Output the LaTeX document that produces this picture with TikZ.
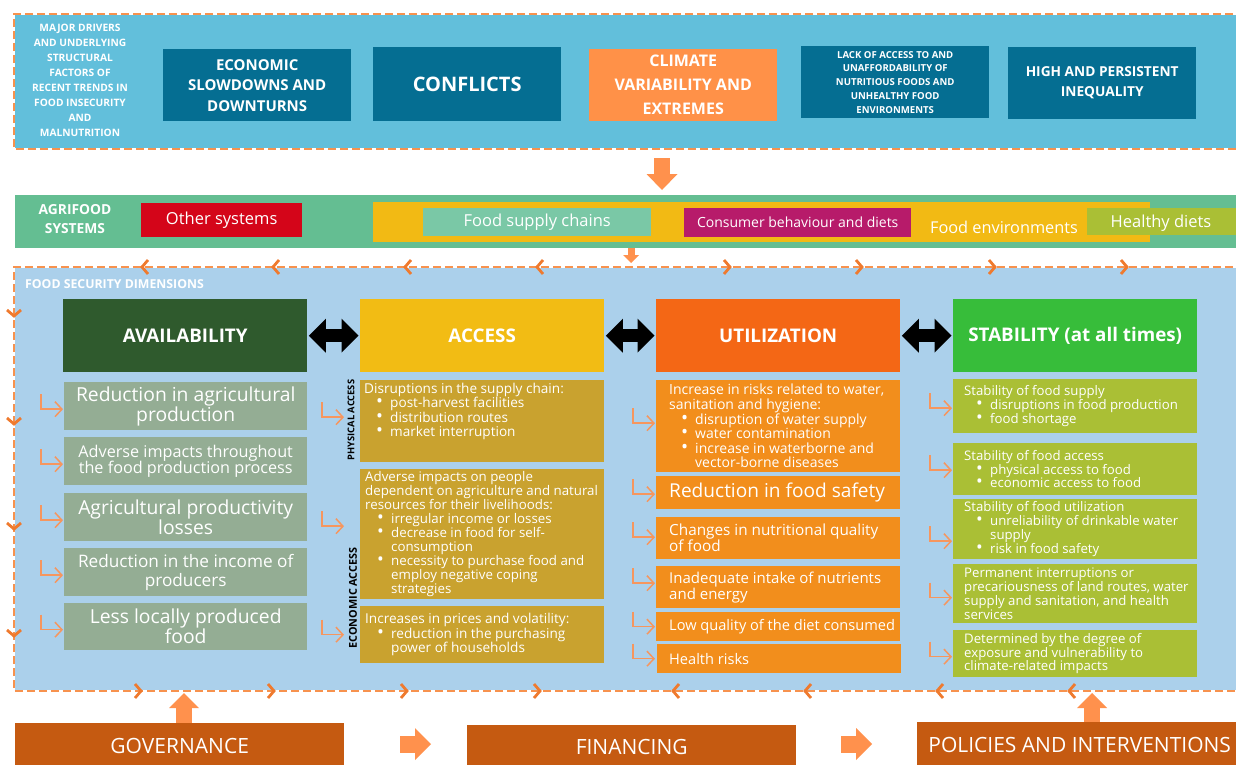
\documentclass[tikz,border=0pt]{standalone}
\usepackage{fontspec}
\usepackage{graphicx}
\setmainfont{Open Sans}
\usetikzlibrary{arrows.meta}
\definecolor{bandblue}{HTML}{62BFDB}
\definecolor{drvteal}{HTML}{056E92}
\definecolor{climc}{HTML}{FF9148}
\definecolor{agrig}{HTML}{64BE92}
\definecolor{othred}{HTML}{D40519}
\definecolor{envyel}{HTML}{F2BA14}
\definecolor{supg}{HTML}{7AC8A6}
\definecolor{consm}{HTML}{B71B6A}
\definecolor{healthg}{HTML}{AABF35}
\definecolor{fsblue}{HTML}{ABD0EB}
\definecolor{avdark}{HTML}{2F5A2D}
\definecolor{avboxc}{HTML}{94AD94}
\definecolor{accy}{HTML}{F2BC14}
\definecolor{acboxc}{HTML}{C9A22F}
\definecolor{utor}{HTML}{F46715}
\definecolor{utboxc}{HTML}{F28E1C}
\definecolor{stg}{HTML}{37BD3A}
\definecolor{stboxc}{HTML}{AABF35}
\definecolor{btmc}{HTML}{C55A11}
\definecolor{dashc}{HTML}{F7924E}
\definecolor{chevc}{HTML}{EF7A2E}
\definecolor{arrc}{HTML}{FF914D}
\definecolor{hookc}{HTML}{F6965E}
\newcommand\fsz[2]{\fontsize{#1}{#2}\selectfont}
\newcommand\bulA[1]{\hspace*{12pt}\makebox[14pt][l]{\smash{\scalebox{1.35}{•}}}#1}
\newcommand\bulB[1]{\hspace*{26pt}#1}
\newcommand\hka[3]{\draw[hookarr] ([shift={(#2-22pt,#3+15pt)}]#1.west) |- ([shift={(#2,#3)}]#1.west);}
\begin{document}
\begin{tikzpicture}[x=1pt,y=-1pt,
  every node/.style={inner sep=0pt,text=white},
  rbox/.style={anchor=north west, inner sep=0pt, align=center},
  txt/.style={anchor=west, align=left, inner sep=0pt, text=white},
  dashb/.style={draw=dashc, line width=2.6pt, dash pattern=on 8pt off 4pt},
  whiteb/.style={draw=white, line width=2.6pt},
  chev/.style={draw=chevc, line width=2.8pt},
  hookarr/.style={draw=hookc, line width=1.5pt, -{Straight Barb[length=7pt,width=15pt]}},
  blockarr/.style n args={3}{draw=arrc, line width=#1, -{Triangle[length=#2,width=#3,line width=0pt]}},
  dblarr/.style={draw=black, line width=13pt, {Triangle[length=17pt,width=34pt,line width=0pt]}-{Triangle[length=17pt,width=34pt,line width=0pt]}, shorten <=1.5pt, shorten >=1.5pt},
  abox/.style={rbox, fill=avboxc, minimum width=243pt, minimum height=48pt},
  acbox/.style={rbox, fill=acboxc, minimum width=244pt},
  utbox/.style={rbox, fill=utboxc, minimum width=244pt},
  stbox/.style={rbox, fill=stboxc, minimum width=244pt},
  hdr/.style={rbox, minimum width=244pt, minimum height=73pt, font=\bfseries\fsz{18.8}{22}},
  tbox/.style={rbox, fill=drvteal, minimum width=188pt, minimum height=72pt},
  btmbox/.style={rbox, fill=btmc, font=\fsz{21}{24}}
]
\useasboundingbox (0,0) rectangle (1236,765);
\clip (0,0) rectangle (1236,765);

% ---------- drivers band ----------
\fill[bandblue] (14,14) rectangle (1245,149);
\draw[whiteb] (1245,14) -- (14,14) -- (14,149) -- (1245,149);
\draw[dashb] (1245,14) -- (14,14) -- (14,149) -- (1245,149);
\node[font=\bfseries\fsz{10.2}{15}, align=center] (drivers) at (80,80) {MAJOR DRIVERS\\AND UNDERLYING\\STRUCTURAL\\FACTORS OF\\RECENT TRENDS IN\\FOOD INSECURITY\\AND\\MALNUTRITION};
\node[tbox, font=\bfseries\fsz{15}{20.5}] (econ) at (163,49) {ECONOMIC\\SLOWDOWNS AND\\DOWNTURNS};
\node[tbox, minimum height=74pt, font=\bfseries\fsz{20}{24}] (confl) at (373,47) {CONFLICTS};
\node[tbox, fill=climc, font=\bfseries\fsz{16}{24}] (clim) at (589,49) {CLIMATE\\VARIABILITY AND\\EXTREMES};
\node[tbox, font=\bfseries\fsz{9.6}{13.7}] (lack) at (801,46) {LACK OF ACCESS TO AND\\UNAFFORDABILITY OF\\NUTRITIOUS FOODS AND\\UNHEALTHY FOOD\\ENVIRONMENTS};
\node[tbox, font=\bfseries\fsz{13.7}{20}] (ineq) at (1008,47) {HIGH AND PERSISTENT\\INEQUALITY};

\coordinate (d1a) at (662,158);
\coordinate (d1b) at (662,190);
\draw[blockarr={16pt}{16pt}{31pt}] (d1a) -- (d1b);

% ---------- agrifood systems ----------
\node[rbox, fill=agrig, minimum width=1230pt, minimum height=53pt] (agriband) at (15,195) {};
\node[font=\bfseries\fsz{13.8}{19}, align=center] (agrit) at (75,219) {AGRIFOOD\\SYSTEMS};
\node[rbox, fill=othred, minimum width=161pt, minimum height=34pt, font=\fsz{16.5}{18}] (other) at (141,203) {Other systems};
\node[rbox, fill=envyel, minimum width=777pt, minimum height=40pt] (fenv) at (373,202) {};
\node[font=\fsz{16.3}{18}] (fenvt) at (1004,227) {Food environments};
\node[rbox, fill=supg, minimum width=228pt, minimum height=28pt, font=\fsz{16.5}{18}] (supply) at (423,208) {Food supply chains};
\node[rbox, fill=consm, minimum width=227pt, minimum height=29pt, font=\fsz{14}{16}] (cons) at (684,208) {Consumer behaviour and diets};
\node[rbox, fill=healthg, minimum width=149pt, minimum height=27pt] (healthy) at (1087,208) {};
\node[font=\fsz{16.5}{18}] (healthyt) at (1161,223) {Healthy diets};

\coordinate (d2a) at (631,248);
\coordinate (d2b) at (631,263);
\draw[blockarr={7pt}{8pt}{16pt}] (d2a) -- (d2b);

% ---------- food security dimensions ----------
\fill[fsblue] (14,267) rectangle (1245,691);
\draw[whiteb] (1245,267) -- (14,267) -- (14,691) -- (1245,691);
\draw[dashb] (1245,267) -- (14,267) -- (14,691) -- (1245,691);
\foreach \x in {142,273,405,537} \draw[chev] (\x+6,260) -- (\x,267) -- (\x+6,274);
\foreach \x in {730,862,995,1127} \draw[chev] (\x-6,260) -- (\x,267) -- (\x-6,274);
\foreach \x in {141,274,407,540} \draw[chev] (\x-6,684) -- (\x,691) -- (\x-6,698);
\foreach \x in {673,805,937,1069} \draw[chev] (\x+6,684) -- (\x,691) -- (\x+6,698);
\foreach \y in {316,424,529,636} \draw[chev] (7,\y-6) -- (14,\y) -- (21,\y-6);
\node[anchor=west, font=\bfseries\fsz{12.3}{14}] (fstitle) at (25,284) {FOOD SECURITY DIMENSIONS};

\node[hdr, fill=avdark] (hav) at (63,299) {AVAILABILITY};
\node[hdr, fill=accy] (hac) at (360,299) {ACCESS};
\node[hdr, fill=utor] (hut) at (656,299) {UTILIZATION};
\node[hdr, fill=stg] (hst) at (953,299) {STABILITY (at all times)};
\draw[dblarr] (hav.east) -- (hac.west);
\draw[dblarr] (hac.east) -- (hut.west);
\draw[dblarr] (hut.east) -- (hst.west);

% availability
\node[abox, font=\fsz{19.3}{20}] (ab1) at (64,382) {Reduction in agricultural\\production};
\node[abox, font=\fsz{16.2}{16.6}] (ab2) at (64,437) {Adverse impacts throughout\\the food production process};
\node[abox, font=\fsz{19.3}{20}] (ab3) at (64,493) {Agricultural productivity\\losses};
\node[abox, font=\fsz{17.2}{19}] (ab4) at (64,548) {Reduction in the income of\\producers};
\node[abox, minimum height=47pt, font=\fsz{19.3}{20}] (ab5) at (64,603) {Less locally produced\\food};
\foreach \n in {ab1,ab2,ab3,ab4,ab5} {\hka{\n}{-1pt}{-3pt}}

% access
\node[acbox, minimum height=82pt] (ac1) at (360,380) {};
\node[acbox, minimum height=130pt] (ac2) at (360,469) {};
\node[acbox, minimum height=57pt] (ac3) at (360,606) {};
\node[txt, anchor=north west, font=\fsz{13.6}{14.3}] (ac1t) at (364,383) {Disruptions in the supply chain:\\\bulA{post-harvest facilities}\\\bulA{distribution routes}\\\bulA{market interruption}};
\node[txt, font=\fsz{13.3}{14}] (ac2t) at ([xshift=5pt]ac2.west) {Adverse impacts on people\\dependent on agriculture and natural\\resources for their livelihoods:\\\bulA{irregular income or losses}\\\bulA{decrease in food for self-}\\\bulB{consumption}\\\bulA{necessity to purchase food and}\\\bulB{employ negative coping}\\\bulB{strategies}};
\node[txt, font=\fsz{13.6}{14.3}] (ac3t) at ([xshift=5pt]ac3.west) {Increases in prices and volatility:\\\bulA{reduction in the purchasing}\\\bulB{power of households}};
\node[rotate=90, text=black, font=\bfseries\fsz{9.3}{10}] (phys) at (351,420) {PHYSICAL ACCESS};
\node[rotate=90, text=black, font=\bfseries\fsz{10.8}{12}] (econa) at (353,598) {ECONOMIC ACCESS};
\hka{ac1}{-16pt}{4pt}
\hka{ac2}{-16pt}{8pt}
\hka{ac3}{-16pt}{0pt}

% utilization
\node[utbox, minimum height=92pt] (ut1) at (656,380) {};
\node[utbox, minimum height=33pt] (ut2) at (656,476) {};
\node[utbox, minimum height=42pt] (ut3) at (656,517) {};
\node[utbox, minimum height=42pt] (ut4) at (656,566) {};
\node[utbox, minimum height=29pt] (ut5) at (656,612) {};
\node[utbox, minimum height=29pt] (ut6) at (657,644) {};
\node[txt, font=\fsz{14}{14.6}] (ut1t) at ([xshift=13pt]ut1.west) {Increase in risks related to water,\\sanitation and hygiene:\\\bulA{disruption of water supply}\\\bulA{water contamination}\\\bulA{increase in waterborne and}\\\bulB{vector-borne diseases}};
\node[txt, font=\fsz{19.1}{20}] (ut2t) at ([xshift=13pt]ut2.west) {Reduction in food safety};
\node[txt, font=\fsz{15.3}{16}] (ut3t) at ([xshift=13pt]ut3.west) {Changes in nutritional quality\\of food};
\node[txt, font=\fsz{15}{16}] (ut4t) at ([xshift=13pt]ut4.west) {Inadequate intake of nutrients\\and energy};
\node[txt, font=\fsz{14.6}{16}] (ut5t) at ([xshift=13pt]ut5.west) {Low quality of the diet consumed};
\node[txt, font=\fsz{14.6}{16}] (ut6t) at ([xshift=12pt]ut6.west) {Health risks};
\hka{ut1}{-1pt}{3pt}
\hka{ut2}{-1pt}{-1.5pt}
\hka{ut3}{-1pt}{1pt}
\hka{ut4}{-1pt}{4pt}
\hka{ut5}{-1pt}{0pt}
\hka{ut6}{-2pt}{0pt}

% stability
\node[stbox, minimum height=54pt] (st1) at (953,379) {};
\node[stbox, minimum height=52pt] (st2) at (953,443) {};
\node[stbox, minimum height=60pt] (st3) at (953,499) {};
\node[stbox, minimum height=59pt] (st4) at (953,564) {};
\node[stbox, minimum height=47pt] (st5) at (953,630) {};
\node[txt, font=\fsz{13.2}{13.8}] (st1t) at ([xshift=11pt]st1.west) {Stability of food supply\\\bulA{disruptions in food production}\\\bulA{food shortage}};
\node[txt, font=\fsz{13.2}{13.8}] (st2t) at ([xshift=11pt]st2.west) {Stability of food access\\\bulA{physical access to food}\\\bulA{economic access to food}};
\node[txt, font=\fsz{13.2}{13.8}] (st3t) at ([xshift=11pt]st3.west) {Stability of food utilization\\\bulA{unreliability of drinkable water}\\\bulB{supply}\\\bulA{risk in food safety}};
\node[txt, font=\fsz{13.2}{13.8}] (st4t) at ([xshift=11pt]st4.west) {Permanent interruptions or\\precariousness of land routes, water\\supply and sanitation, and health\\services};
\node[txt, font=\fsz{13.2}{13.8}] (st5t) at ([xshift=11pt]st5.west) {Determined by the degree of\\exposure and vulnerability to\\climate-related impacts};
\hka{st1}{-1pt}{-2pt}
\hka{st2}{-1pt}{-1pt}
\hka{st3}{-1pt}{-12pt}
\hka{st4}{-1pt}{-4pt}
\hka{st5}{-1pt}{-3pt}

% ---------- bottom ----------
\node[btmbox, minimum width=329pt, minimum height=45pt] (gov) at (15,723) {GOVERNANCE};
\node[btmbox, minimum width=329pt, minimum height=43pt] (fin) at (467,725) {FINANCING};
\node[btmbox, minimum width=325pt, minimum height=46pt] (pol) at (917,722) {POLICIES AND INTERVENTIONS};
\coordinate (u1a) at (184,723);
\coordinate (u1b) at (184,693);
\coordinate (u2a) at (1092,722);
\coordinate (u2b) at (1092,693);
\coordinate (r1a) at (400,744);
\coordinate (r1b) at (431,744);
\coordinate (r2a) at (841,744);
\coordinate (r2b) at (872,744);
\draw[blockarr={16pt}{15pt}{30pt}] (u1a) -- (u1b);
\draw[blockarr={16pt}{15pt}{30pt}] (u2a) -- (u2b);
\draw[blockarr={17pt}{16pt}{32pt}] (r1a) -- (r1b);
\draw[blockarr={17pt}{16pt}{32pt}] (r2a) -- (r2b);
\end{tikzpicture}
\end{document}
